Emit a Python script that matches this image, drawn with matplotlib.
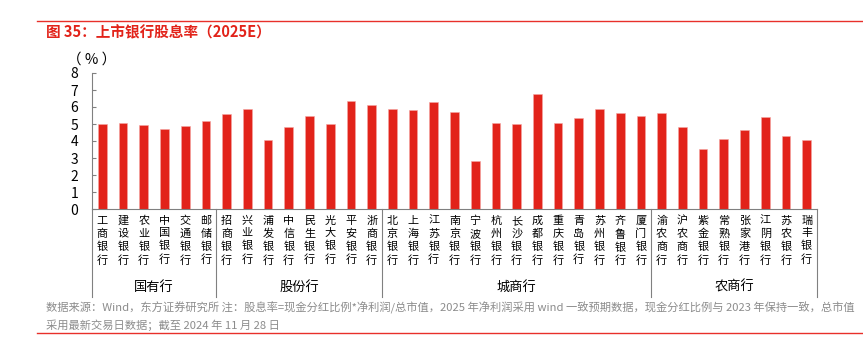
import matplotlib
matplotlib.use("Agg")
import matplotlib.pyplot as plt
from matplotlib.lines import Line2D

plt.rcParams['font.family'] = ['Noto Sans CJK SC', 'DejaVu Sans']

# data
groups = ['国有行', '股份行', '城商行', '农商行']
banks_state = ['工商银行', '建设银行', '农业银行', '中国银行', '交通银行', '邮储银行']
banks_joint = ['招商银行', '兴业银行', '浦发银行', '中信银行', '民生银行', '光大银行', '平安银行', '浙商银行']
banks_city = ['北京银行', '上海银行', '江苏银行', '南京银行', '宁波银行', '杭州银行', '长沙银行',
              '成都银行', '重庆银行', '青岛银行', '苏州银行', '齐鲁银行', '厦门银行']
banks_rural = ['渝农商行', '沪农商行', '紫金银行', '常熟银行', '张家港行', '江阴银行', '苏农银行', '瑞丰银行']

yield_state = [5.00, 5.05, 4.97, 4.70, 4.91, 5.15]
yield_joint = [5.56, 5.91, 4.05, 4.83, 5.48, 4.99, 6.37, 6.10]
yield_city = [5.91, 5.83, 6.32, 5.69, 2.83, 5.03, 4.99, 6.78, 5.03, 5.38, 5.91, 5.65, 5.50]
yield_rural = [5.67, 4.80, 3.55, 4.09, 4.62, 5.40, 4.31, 4.03]

bank_groups = [banks_state, banks_joint, banks_city, banks_rural]
names = banks_state + banks_joint + banks_city + banks_rural
values = yield_state + yield_joint + yield_city + yield_rural

red = '#E2231A'
grey = '#808080'

fig = plt.figure(figsize=(8.63, 3.54), dpi=100)

# title and frame lines
fig.add_artist(Line2D([37 / 863, 1], [1 - 21 / 354] * 2, color='#E8302A', lw=1.0))
fig.text(46 / 863, 1 - 32 / 354, '图 35：上市银行股息率（2025E）', color=red,
         fontsize=10.5, fontweight='bold', va='center', ha='left')
fig.add_artist(Line2D([37 / 863, 1], [1 - 333 / 354] * 2, color='#E8302A', lw=1.0))

ax = fig.add_axes([92 / 863, 1 - 209 / 354, 725 / 863, 136 / 354])
x = list(range(len(names)))
ax.bar(x, values, width=0.42, color=red, edgecolor='#F4A7A3', linewidth=0.4)
ax.set_xlim(-0.5, len(names) - 0.5)
ax.set_ylim(0, 8)
ax.set_yticks(range(0, 9))
ax.tick_params(axis='y', direction='in', length=3, color=grey, labelsize=10, pad=10)
ax.set_xticks([])
for s in ['top', 'right']:
    ax.spines[s].set_visible(False)
for s in ['left', 'bottom']:
    ax.spines[s].set_color(grey)
    ax.spines[s].set_linewidth(0.8)

ax.text(0.0, 8.8, '（ % ）', transform=ax.get_yaxis_transform(), ha='center', va='center',
        fontsize=10.5)

trans = ax.get_xaxis_transform()
# category labels, stacked vertically
for i, n in enumerate(names):
    ax.text(i, -0.05, '\n'.join(n), transform=trans, ha='center', va='top',
            fontsize=8, linespacing=1.33)

# group separators and group labels
start = 0
bounds = [-0.5]
for g, members in zip(groups, bank_groups):
    end = start + len(members)
    bounds.append(end - 0.5)
    ax.text((start + end - 1) / 2, -0.574, g, transform=trans, ha='center', va='center',
            fontsize=9.5)
    start = end
for b in bounds:
    ax.plot([b, b], [0, -0.647], transform=trans, color=grey, lw=0.8, clip_on=False)

note1 = ('数据来源：Wind，东方证券研究所 注：股息率=现金分红比例*净利润/总市值，2025 年净利润采用 '
         'wind 一致预期数据，现金分红比例与 2023 年保持一致，总市值')
note2 = '采用最新交易日数据；截至 2024 年 11 月 28 日'
fig.text(46 / 863, 1 - 308 / 354, note1, color='#8C8C8C', fontsize=8.1, va='center', ha='left')
fig.text(46 / 863, 1 - 325 / 354, note2, color='#8C8C8C', fontsize=8.1, va='center', ha='left')

fig.savefig('out.png', dpi=100)
